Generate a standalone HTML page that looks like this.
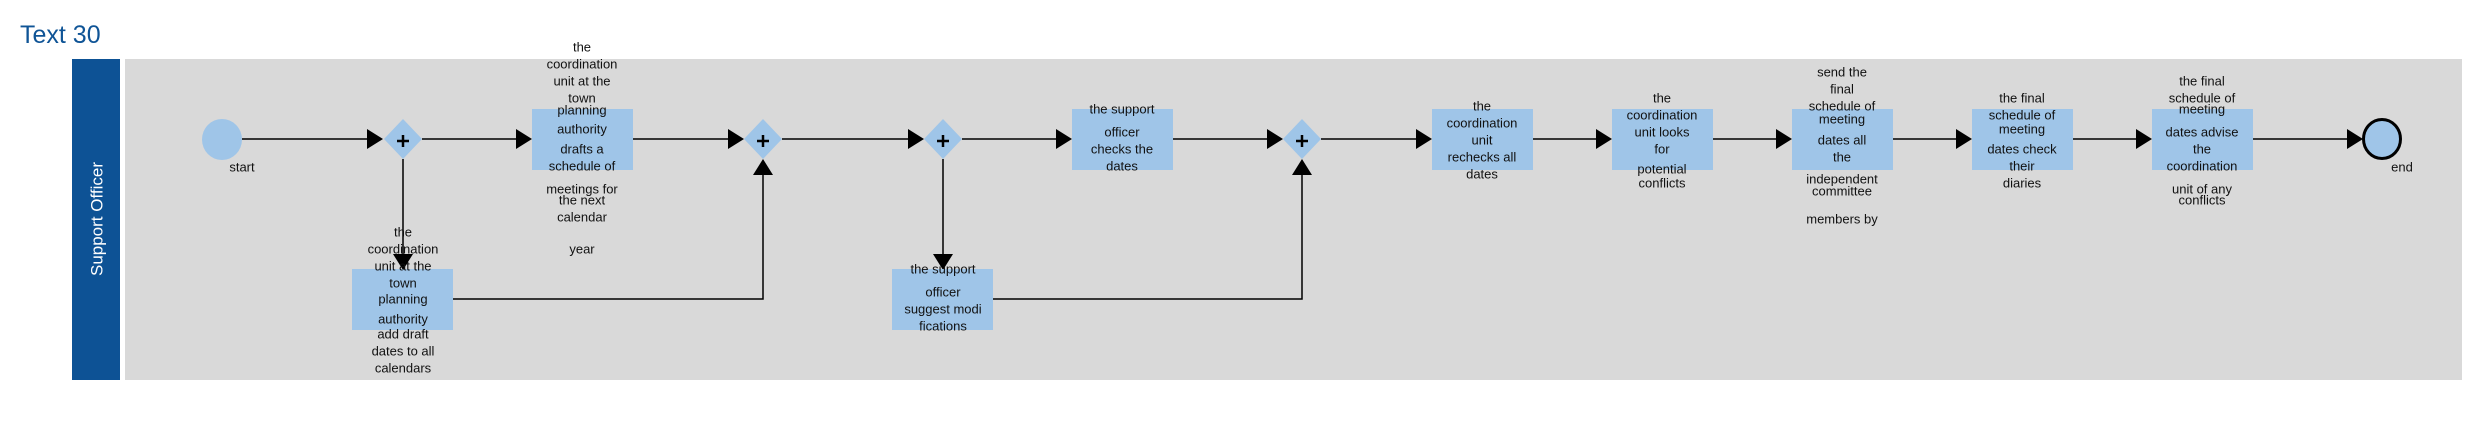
<!DOCTYPE html>
<html><head><meta charset="utf-8"><style>
html,body{margin:0;padding:0;background:#fff;}
svg{display:block;}
text{font-family:"Liberation Sans",sans-serif;}
.t{font-size:13px;fill:#111;text-anchor:middle;dominant-baseline:central;}
</style></head><body>
<svg width="2479" height="421" viewBox="0 0 2479 421" xmlns="http://www.w3.org/2000/svg">
<text x="20" y="35" font-size="25" fill="#0f5496" dominant-baseline="central">Text 30</text>
<rect x="72" y="59" width="48" height="321" fill="#0d5295"/>
<text x="0" y="0" font-size="17" fill="#fff" text-anchor="middle" dominant-baseline="central" transform="translate(97,219) rotate(-90)">Support Officer</text>
<rect x="125" y="59" width="2337" height="321" fill="#d9d9d9"/>
<g stroke="#000" stroke-width="1.5" fill="none">
<line x1="242" y1="139" x2="367" y2="139"/>
<line x1="422" y1="139" x2="516" y2="139"/>
<line x1="633" y1="139" x2="728" y2="139"/>
<line x1="782" y1="139" x2="908" y2="139"/>
<line x1="962" y1="139" x2="1056" y2="139"/>
<line x1="1173" y1="139" x2="1267" y2="139"/>
<line x1="1321" y1="139" x2="1416" y2="139"/>
<line x1="1533" y1="139" x2="1596" y2="139"/>
<line x1="1713" y1="139" x2="1776" y2="139"/>
<line x1="1893" y1="139" x2="1956" y2="139"/>
<line x1="2073" y1="139" x2="2136" y2="139"/>
<line x1="2253" y1="139" x2="2347" y2="139"/>
<line x1="403" y1="159" x2="403" y2="254"/>
<polyline points="453,299 763,299 763,175"/>
<line x1="943" y1="159" x2="943" y2="254"/>
<polyline points="993,299 1302,299 1302,175"/>
</g>
<g fill="#000">
<polygon points="367,129 383,139 367,149"/>
<polygon points="516,129 532,139 516,149"/>
<polygon points="728,129 744,139 728,149"/>
<polygon points="908,129 924,139 908,149"/>
<polygon points="1056,129 1072,139 1056,149"/>
<polygon points="1267,129 1283,139 1267,149"/>
<polygon points="1416,129 1432,139 1416,149"/>
<polygon points="1596,129 1612,139 1596,149"/>
<polygon points="1776,129 1792,139 1776,149"/>
<polygon points="1956,129 1972,139 1956,149"/>
<polygon points="2136,129 2152,139 2136,149"/>
<polygon points="2347,129 2363,139 2347,149"/>
<polygon points="393,254 413,254 403,270"/>
<polygon points="933,254 953,254 943,270"/>
<polygon points="753,175 773,175 763,159"/>
<polygon points="1292,175 1312,175 1302,159"/>
</g>
<ellipse cx="222" cy="139.5" rx="20" ry="20.5" fill="#9fc5e8"/>
<ellipse cx="2382" cy="139" rx="18.5" ry="19.5" fill="#9fc5e8" stroke="#000" stroke-width="3"/>
<g fill="#9fc5e8">
<polygon points="403,119 422,139 403,159 384,139"/>
<polygon points="763,119 782,139 763,159 744,139"/>
<polygon points="943,119 962,139 943,159 924,139"/>
<polygon points="1302,119 1321,139 1302,159 1283,139"/>
<rect x="532" y="109" width="101" height="61"/>
<rect x="352" y="269" width="101" height="61"/>
<rect x="1072" y="109" width="101" height="61"/>
<rect x="892" y="269" width="101" height="61"/>
<rect x="1432" y="109" width="101" height="61"/>
<rect x="1612" y="109" width="101" height="61"/>
<rect x="1792" y="109" width="101" height="61"/>
<rect x="1972" y="109" width="101" height="61"/>
<rect x="2152" y="109" width="101" height="61"/>
</g>
<g stroke="#000" stroke-width="2.5">
<line x1="397" y1="141" x2="409" y2="141"/><line x1="403" y1="135" x2="403" y2="147"/>
<line x1="757" y1="141" x2="769" y2="141"/><line x1="763" y1="135" x2="763" y2="147"/>
<line x1="937" y1="141" x2="949" y2="141"/><line x1="943" y1="135" x2="943" y2="147"/>
<line x1="1296" y1="141" x2="1308" y2="141"/><line x1="1302" y1="135" x2="1302" y2="147"/>
</g>
<g class="t">
<text class="t" x="242" y="167">start</text>
<text class="t" x="2402" y="167">end</text>
<text class="t" x="582" y="47">the</text><text class="t" x="582" y="64">coordination</text><text class="t" x="582" y="81">unit at the</text><text class="t" x="582" y="98">town</text><text class="t" x="582" y="110">planning</text><text class="t" x="582" y="129">authority</text><text class="t" x="582" y="149">drafts a</text><text class="t" x="582" y="166">schedule of</text><text class="t" x="582" y="189">meetings for</text><text class="t" x="582" y="200">the next</text><text class="t" x="582" y="217">calendar</text><text class="t" x="582" y="249">year</text>
<text class="t" x="403" y="232">the</text><text class="t" x="403" y="249">coordination</text><text class="t" x="403" y="266">unit at the</text><text class="t" x="403" y="283">town</text><text class="t" x="403" y="299">planning</text><text class="t" x="403" y="319">authority</text><text class="t" x="403" y="334">add draft</text><text class="t" x="403" y="351">dates to all</text><text class="t" x="403" y="368">calendars</text>
<text class="t" x="1122" y="109">the support</text><text class="t" x="1122" y="132">officer</text><text class="t" x="1122" y="149">checks the</text><text class="t" x="1122" y="166">dates</text>
<text class="t" x="943" y="269">the support</text><text class="t" x="943" y="292">officer</text><text class="t" x="943" y="309">suggest modi</text><text class="t" x="943" y="326">fications</text>
<text class="t" x="1482" y="106">the</text><text class="t" x="1482" y="123">coordination</text><text class="t" x="1482" y="140">unit</text><text class="t" x="1482" y="157">rechecks all</text><text class="t" x="1482" y="174">dates</text>
<text class="t" x="1662" y="98">the</text><text class="t" x="1662" y="115">coordination</text><text class="t" x="1662" y="132">unit looks</text><text class="t" x="1662" y="149">for</text><text class="t" x="1662" y="169">potential</text><text class="t" x="1662" y="183">conflicts</text>
<text class="t" x="1842" y="72">send the</text><text class="t" x="1842" y="89">final</text><text class="t" x="1842" y="106">schedule of</text><text class="t" x="1842" y="119">meeting</text><text class="t" x="1842" y="140">dates all</text><text class="t" x="1842" y="157">the</text><text class="t" x="1842" y="179">independent</text><text class="t" x="1842" y="191">committee</text><text class="t" x="1842" y="219">members by</text>
<text class="t" x="2022" y="98">the final</text><text class="t" x="2022" y="115">schedule of</text><text class="t" x="2022" y="129">meeting</text><text class="t" x="2022" y="149">dates check</text><text class="t" x="2022" y="166">their</text><text class="t" x="2022" y="183">diaries</text>
<text class="t" x="2202" y="81">the final</text><text class="t" x="2202" y="98">schedule of</text><text class="t" x="2202" y="109">meeting</text><text class="t" x="2202" y="132">dates advise</text><text class="t" x="2202" y="149">the</text><text class="t" x="2202" y="166">coordination</text><text class="t" x="2202" y="189">unit of any</text><text class="t" x="2202" y="200">conflicts</text>
</g>
</svg>
</body></html>
